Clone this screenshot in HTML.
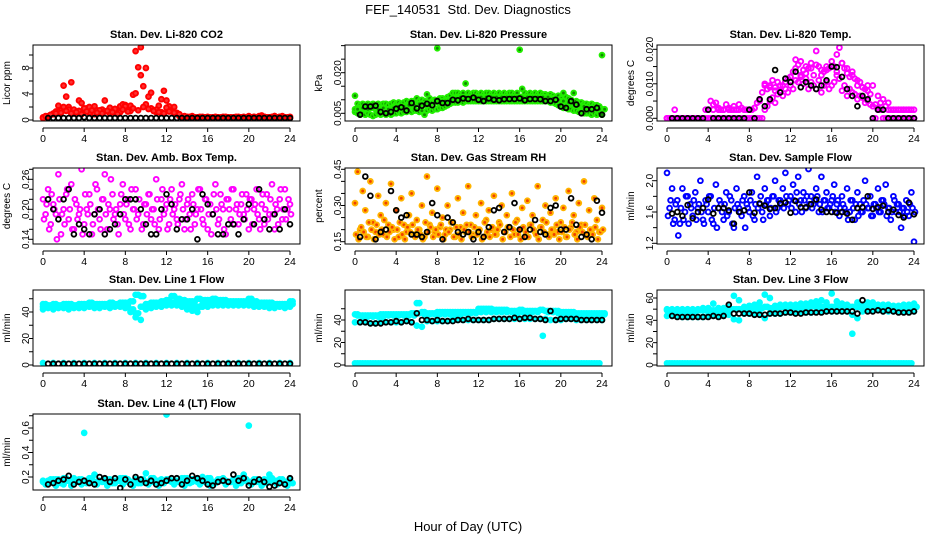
<!DOCTYPE html>
<html><head><meta charset="utf-8"><style>
html,body{margin:0;padding:0;background:#fff}
svg{display:block;font-family:"Liberation Sans",sans-serif}
</style></head><body>
<svg id="chart" width="936" height="540" viewBox="0 0 936 540" xmlns="http://www.w3.org/2000/svg">
<rect width="936" height="540" fill="#fff"/>
<text x="468" y="14" text-anchor="middle" font-size="13">FEF_140531&#160; Std. Dev. Diagnostics</text>
<text x="468" y="531" text-anchor="middle" font-size="13">Hour of Day (UTC)</text>
</svg>
<script>
const xTicks=[0,4,8,12,16,20,24];
// CO2
const co2Main=[0.4,0.5,0.6,0.8,1.0,1.3,2.2,1.5,5.3,3.6,2.0,5.8,1.6,1.2,3.0,2.6,1.4,1.8,2.0,1.2,2.1,1.5,1.1,1.6,3.0,1.4,1.9,1.3,1.7,1.2,2.1,2.4,2.3,1.9,2.2,3.9,10.6,8.1,11.2,5.2,2.4,3.6,1.8,1.4,1.2,2.2,3.2,4.5,3.0,2.1,1.5,2.0,1.1,0.6,0.5,0.4,0.5,0.4,0.6,0.4,0.3,0.5,0.4,0.4,0.5,0.3,0.4,0.5,0.4,0.3,0.4,0.5,0.4,0.4,0.3,0.5,0.4,0.4,0.5,0.3,0.4,0.4,0.5,0.4,0.6,0.7,0.5,0.4,0.4,0.5,0.6,0.4,0.5,0.6,0.4,0.3,0.5];
const co2Low=[0.3,0.5,0.9,1.2,2.0,1.6,1.0,1.4,1.8,1.1,0.9,1.5,1.3,1.0,1.7,1.2,2.1,1.4,4.1,6.9,8.0,4.2,1.6,1.2,1.9,1.3,1.0,0.5,0.4,0.3,0.4,0.5,0.3,0.4,0.4,0.5,0.3,0.4,0.5,0.4,0.6,0.5,0.4,0.5,0.4,0.6,0.5,0.4,0.3];
const co2Mid=[0.6,0.8,1.0,1.1,1.4,1.0,1.2,0.9,1.3,1.5,1.1,1.0,1.4,1.2,0.9,1.6,1.3,1.8,1.5,2.0,1.7,1.4,1.2,1.0,1.3,1.1,0.9,0.6,0.5,0.4,0.4,0.4,0.4,0.4,0.4,0.4,0.4,0.4,0.4,0.4,0.4,0.4,0.4,0.4,0.4,0.4,0.4,0.4];
const co2Black=[0.3,0.3,0.3,0.3,0.3,0.3,0.3,0.4,0.3,0.3,0.3,0.3,0.3,0.3,0.3,0.3,0.3,0.3,0.3,0.3,0.3,0.3,0.3,0.3,0.3,0.3,0.3,0.3,0.3,0.3,0.3,0.3,0.3,0.3,0.3,0.3,0.3,0.3,0.3,0.3,0.3,0.3,0.3,0.3,0.3,0.3,0.3,0.3];
// Pressure
const presUpper=[0.0115,0.0085,0.008,0.0085,0.008,0.0085,0.008,0.0085,0.008,0.0085,0.008,0.0085,0.0085,0.008,0.0085,0.009,0.0085,0.009,0.0085,0.009,0.0095,0.009,0.0095,0.0095,0.0105,0.0095,0.01,0.0095,0.012,0.0105,0.0095,0.01,0.029,0.0105,0.0105,0.01,0.011,0.0115,0.0125,0.0125,0.0125,0.012,0.0125,0.016,0.0125,0.012,0.0125,0.0125,0.012,0.0125,0.012,0.0125,0.0125,0.012,0.0125,0.012,0.0125,0.012,0.0125,0.012,0.0125,0.0125,0.012,0.0125,0.0285,0.014,0.0125,0.012,0.0125,0.012,0.0125,0.012,0.0125,0.012,0.012,0.0115,0.012,0.0115,0.011,0.0115,0.0105,0.0125,0.011,0.0105,0.01,0.0125,0.0095,0.009,0.009,0.0085,0.0085,0.008,0.0085,0.008,0.008,0.0075,0.0265];
const presLower=[0.0055,0.005,0.0045,0.005,0.0045,0.005,0.0045,0.004,0.0045,0.005,0.0045,0.005,0.0045,0.005,0.0045,0.005,0.005,0.0055,0.005,0.0055,0.0055,0.006,0.0055,0.006,0.006,0.0055,0.006,0.0045,0.006,0.0065,0.006,0.0065,0.0065,0.007,0.007,0.0075,0.008,0.0085,0.009,0.009,0.009,0.0095,0.009,0.0095,0.0095,0.0095,0.0095,0.0095,0.0095,0.0095,0.0095,0.0095,0.0095,0.0095,0.0095,0.0095,0.0095,0.0095,0.0095,0.0095,0.0095,0.0095,0.0095,0.0095,0.0095,0.0095,0.0095,0.0095,0.0095,0.0095,0.0095,0.0095,0.0095,0.0095,0.0095,0.0095,0.009,0.009,0.0085,0.008,0.0075,0.007,0.007,0.0065,0.0065,0.006,0.006,0.0055,0.0055,0.005,0.005,0.005,0.0045,0.005,0.0045,0.005,0.0045];
const presMid=[0.0065,0.007,0.0065,0.007,0.0065,0.007,0.0065,0.007,0.0075,0.0075,0.008,0.008,0.0085,0.0085,0.008,0.009,0.009,0.0095,0.01,0.0105,0.011,0.011,0.011,0.011,0.011,0.011,0.011,0.011,0.011,0.011,0.011,0.011,0.011,0.011,0.011,0.011,0.011,0.011,0.0105,0.01,0.0095,0.009,0.0085,0.008,0.0075,0.007,0.007,0.0065,0.0065];
const presBlack=[0.0045,0.0075,0.0075,0.0078,0.0055,0.005,0.0055,0.0067,0.0072,0.006,0.0088,0.0068,0.0078,0.0085,0.008,0.0095,0.0088,0.0088,0.01,0.0098,0.0105,0.0103,0.0108,0.01,0.0095,0.0105,0.01,0.0098,0.0102,0.0103,0.0103,0.0105,0.0098,0.0103,0.0103,0.0102,0.0095,0.0095,0.01,0.0075,0.007,0.0095,0.0082,0.005,0.0065,0.0065,0.007,0.0045];
// Li-820 temp
const tempA=[0,0,0,0.0025,0,0,0,0,0,0,0,0,0,0,0,0.0025,0.0025,0.005,0.0025,0.0045,0.0025,0.0025,0.0025,0.004,0.0025,0.0025,0.0035,0.0025,0.0025,0.003,0.0025,0.0025,0.0025,0.0025,0.003,0.0045,0.0055,0.0075,0.01,0.0085,0.0095,0.011,0.009,0.0105,0.0075,0.0095,0.0105,0.0115,0.012,0.0135,0.017,0.0155,0.0165,0.014,0.015,0.0145,0.016,0.0125,0.0195,0.015,0.014,0.0135,0.015,0.0145,0.0165,0.015,0.0185,0.0205,0.016,0.0145,0.013,0.012,0.0135,0.0115,0.0095,0.0105,0.009,0.0085,0.0095,0.007,0.0035,0.004,0.0065,0.0045,0.0055,0.0035,0.0025,0.0025,0.0025,0.0025,0.0025,0.0025,0.0025,0.0025,0.0025,0.0025,0.0025];
const tempB=[0,0,0,0,0,0,0,0,0,0,0,0,0,0,0,0,0,0,0,0,0,0,0,0,0,0,0,0,0,0,0,0,0,0,0,0,0,0,0.0025,0.0035,0.005,0.006,0.0045,0.007,0.008,0.0065,0.0085,0.0075,0.0095,0.0085,0.011,0.0105,0.012,0.01,0.0115,0.0085,0.0105,0.0095,0.0085,0.011,0.0075,0.0095,0.0105,0.0085,0.0095,0.0105,0.0125,0.0115,0.008,0.0095,0.0065,0.0085,0.0075,0.007,0.0055,0.0065,0.006,0.0045,0.005,0.004,0,0,0.0025,0.0025,0,0,0,0,0,0,0,0,0,0,0,0,0];
const tempC=[0,0,0,0,0,0,0,0,0.0025,0.004,0.003,0.0025,0.003,0.0025,0.004,0.0025,0.0025,0.003,0.005,0.0095,0.009,0.008,0.0095,0.0105,0.012,0.0145,0.0125,0.013,0.0145,0.0155,0.0125,0.014,0.015,0.0135,0.016,0.0145,0.0125,0.011,0.009,0.008,0.0095,0.003,0.0025,0.0045,0.0025,0.0025,0.0025,0.0025,0];
const tempBlack=[0,0,0,0,0,0,0,0.0025,0,0,0,0,0,0,0,0.0025,0,0.0055,0.0035,0.0055,0.014,0.0075,0.0115,0.0105,0.0135,0.009,0.0105,0.0095,0.0085,0.0095,0.011,0.015,0.0148,0.012,0.0085,0.0065,0.0035,0.0065,0.0055,0,0.0025,0.0025,0,0,0,0,0,0];
// Amb box temp
const ambA=[0.22,0.19,0.24,0.17,0.21,0.19,0.27,0.15,0.2,0.23,0.18,0.25,0.16,0.21,0.19,0.28,0.17,0.2,0.23,0.15,0.19,0.24,0.18,0.22,0.27,0.16,0.2,0.23,0.19,0.17,0.21,0.25,0.18,0.22,0.16,0.2,0.24,0.19,0.3,0.17,0.21,0.23,0.18,0.2,0.26,0.16,0.22,0.19,0.21,0.17,0.24,0.2,0.18,0.22,0.25,0.16,0.21,0.19,0.23,0.17,0.2,0.24,0.18,0.22,0.16,0.21,0.19,0.25,0.17,0.23,0.2,0.15,0.22,0.18,0.24,0.2,0.17,0.21,0.19,0.23,0.16,0.22,0.2,0.24,0.18,0.21,0.17,0.23,0.19,0.25,0.16,0.2,0.22,0.18,0.24,0.2,0.21];
const ambB=[0.18,0.21,0.16,0.23,0.2,0.14,0.22,0.19,0.17,0.24,0.2,0.16,0.22,0.18,0.2,0.15,0.23,0.19,0.21,0.17,0.25,0.2,0.16,0.22,0.19,0.21,0.26,0.18,0.2,0.15,0.23,0.19,0.21,0.17,0.24,0.2,0.18,0.22,0.16,0.21,0.19,0.23,0.2,0.17,0.22,0.18,0.24,0.2,0.16,0.22,0.19,0.21,0.17,0.23,0.2,0.18,0.22,0.16,0.21,0.19,0.24,0.2,0.17,0.22,0.19,0.15,0.23,0.2,0.18,0.21,0.16,0.22,0.2,0.24,0.17,0.21,0.19,0.23,0.18,0.2,0.22,0.17,0.21,0.19,0.16,0.23,0.2,0.18,0.22,0.19,0.21,0.17,0.24,0.2,0.18,0.22,0.19];
const ambBlack=[0.22,0.2,0.18,0.22,0.24,0.15,0.17,0.16,0.15,0.19,0.2,0.15,0.16,0.17,0.19,0.22,0.22,0.22,0.2,0.17,0.15,0.15,0.2,0.23,0.21,0.16,0.18,0.18,0.2,0.14,0.23,0.21,0.19,0.15,0.15,0.17,0.17,0.15,0.18,0.21,0.17,0.24,0.18,0.16,0.19,0.16,0.2,0.17];
// RH
const rhA=[0.31,0.44,0.2,0.36,0.28,0.17,0.4,0.23,0.19,0.34,0.26,0.18,0.31,0.22,0.39,0.2,0.28,0.17,0.33,0.22,0.19,0.26,0.35,0.18,0.24,0.2,0.3,0.17,0.42,0.22,0.27,0.19,0.37,0.21,0.25,0.18,0.3,0.2,0.23,0.17,0.33,0.21,0.27,0.19,0.38,0.22,0.18,0.26,0.2,0.31,0.17,0.24,0.28,0.2,0.34,0.18,0.23,0.3,0.19,0.26,0.21,0.35,0.18,0.24,0.2,0.29,0.17,0.32,0.22,0.26,0.19,0.38,0.21,0.24,0.3,0.18,0.27,0.2,0.33,0.19,0.23,0.29,0.17,0.36,0.21,0.26,0.19,0.31,0.22,0.4,0.18,0.28,0.2,0.33,0.24,0.19,0.29];
const rhB=[0.18,0.16,0.21,0.19,0.17,0.23,0.2,0.16,0.22,0.18,0.2,0.24,0.17,0.19,0.21,0.16,0.2,0.23,0.18,0.16,0.21,0.19,0.22,0.17,0.2,0.18,0.16,0.23,0.19,0.21,0.17,0.2,0.18,0.22,0.16,0.2,0.19,0.23,0.17,0.21,0.18,0.16,0.2,0.22,0.19,0.17,0.21,0.18,0.2,0.16,0.23,0.19,0.17,0.21,0.18,0.2,0.22,0.16,0.19,0.21,0.17,0.2,0.23,0.18,0.16,0.21,0.19,0.17,0.22,0.2,0.18,0.16,0.21,0.19,0.23,0.17,0.2,0.18,0.22,0.16,0.19,0.21,0.17,0.2,0.23,0.18,0.16,0.21,0.19,0.22,0.17,0.2,0.18,0.21,0.16,0.19,0.2];
const rhBlack=[0.17,0.42,0.34,0.16,0.19,0.2,0.36,0.28,0.25,0.26,0.18,0.18,0.17,0.19,0.31,0.26,0.16,0.25,0.23,0.19,0.18,0.19,0.16,0.19,0.17,0.21,0.28,0.29,0.19,0.21,0.31,0.2,0.17,0.2,0.24,0.19,0.18,0.29,0.3,0.2,0.2,0.33,0.22,0.17,0.18,0.16,0.32,0.27];
// Sample flow
const sfA=[2.1,1.65,1.9,1.5,1.75,1.45,1.9,1.6,1.8,1.7,1.55,1.85,1.65,2.0,1.5,1.75,1.6,1.8,1.45,1.95,1.65,1.7,1.5,1.85,1.6,1.75,1.4,1.9,1.65,1.55,1.8,1.7,1.6,1.85,1.5,2.05,1.7,1.6,1.9,1.75,1.55,1.8,2.0,1.65,1.75,1.9,2.1,1.7,1.8,1.95,1.6,2.05,1.75,1.85,1.65,2.15,1.8,1.7,1.9,1.6,2.05,1.75,1.85,1.65,1.75,1.95,1.7,1.55,1.8,1.65,1.9,1.6,1.75,1.5,1.85,1.7,1.6,2.0,1.65,1.8,1.55,1.7,1.9,1.6,1.75,1.95,1.65,1.5,1.8,1.6,1.7,1.4,1.65,1.75,1.55,1.85,1.22];
const sfB=[1.55,1.75,1.45,1.7,1.3,1.65,1.5,1.8,1.45,1.65,1.75,1.5,1.7,1.6,1.45,1.7,1.8,1.5,1.65,1.4,1.75,1.6,1.7,1.55,1.8,1.45,1.65,1.7,1.6,1.75,1.4,1.65,1.75,1.55,1.7,1.65,1.8,1.5,1.7,1.75,1.65,1.8,1.6,1.75,1.7,1.65,1.8,1.75,1.65,1.75,1.85,1.7,1.6,1.75,1.8,1.7,1.65,1.75,1.8,1.7,1.6,1.75,1.65,1.7,1.8,1.6,1.75,1.65,1.7,1.6,1.5,1.75,1.65,1.7,1.55,1.6,1.75,1.7,1.65,1.55,1.7,1.65,1.6,1.75,1.7,1.55,1.65,1.6,1.75,1.7,1.6,1.65,1.55,1.6,1.7,1.65,1.6];
const sfBlack=[1.58,1.6,1.55,1.69,1.52,1.6,1.65,1.76,1.58,1.65,1.65,1.62,1.45,1.6,1.62,1.85,1.59,1.71,1.68,1.64,1.65,1.71,1.72,1.59,1.74,1.66,1.66,1.7,1.76,1.63,1.6,1.6,1.59,1.6,1.58,1.5,1.65,1.66,1.8,1.64,1.66,1.68,1.6,1.63,1.56,1.53,1.72,1.57];
// Line 1
const l1Up=[46,45,46,45,46,46,45,46,46,47,46,46,46,47,46,47,47,48,53,52,46,47,47,48,49,52,50,49,48,48,50,49,49,50,49,49,48,48,48,48,50,48,47,47,47,46,46,46,48];
const l1Mid=[44,44,44,44,44,45,44,44,45,45,45,45,45,45,45,46,45,42,39,44,44,45,46,46,47,47,47,46,45,44,44,46,47,47,47,47,46,46,47,46,47,46,45,45,45,45,45,45,46];
const l1Low=[42,43,42,43,43,42,43,43,43,44,43,43,44,43,44,44,43,40,36,34,42,43,44,44,45,45,45,44,42,41,40,44,44,45,45,45,45,45,45,45,45,44,44,44,43,43,44,43,44];
const l1Zero=[1.5,1.5,1.5,1.5,1.5,1.5,1.5,1.5,1.5,1.5,1.5,1.5,1.5,1.5,1.5,1.5,1.5,1.5,1.5,1.5,1.5,1.5,1.5,1.5,1.5];
const l1Black=[1,1,1,1,1,1,1,1,1,1,1,1,1,1,1,1,1,1,1,1,1,1,1,1,1,1,1,1,1,1,1,1,1,1,1,1,1,1,1,1,1,1,1,1,1,1,1,1];
// Line 2
const l2Up=[45,44,44,44,44,45,45,45,45,45,45,46,55,47,46,46,47,47,47,47,47,47,47,47,50,50,50,49,49,49,48,48,49,48,48,48,49,48,48,48,47,47,47,46,46,46,46,46,46];
const l2Mid=[44,43,43,43,43,43,44,44,44,44,44,44,46,45,45,45,45,45,45,45,45,46,46,46,47,47,47,47,47,47,47,46,47,47,47,47,26,47,47,46,46,46,45,45,45,45,45,45,45];
const l2Low=[38,38,38,37,37,38,38,38,38,38,39,38,35,34,39,39,39,39,39,40,40,40,40,40,40,40,40,41,41,41,41,41,41,41,41,41,41,41,40,40,40,41,41,40,40,40,40,40,40];
const l2Zero=[1.5,1.5,1.5,1.5,1.5,1.5,1.5,1.5,1.5,1.5,1.5,1.5,1.5,1.5,1.5,1.5,1.5,1.5,1.5,1.5,1.5,1.5,1.5,1.5,1.5,1.5,1.5,1.5,1.5,1.5,1.5,1.5,1.5,1.5,1.5,1.5,1.5,1.5,1.5,1.5,1.5,1.5,1.5,1.5,1.5,1.5,1.5,1.5];
const l2Black=[38,38,37,37,37,38,38,39,38,39,38,46,40,40,39,40,39,39,39,40,40,41,40,40,40,40,41,41,41,41,42,41,42,42,41,41,40,48,40,41,41,41,41,40,40,40,40,40];
// Line 3
const l3Up=[50,50,50,50,50,50,50,51,51,55,51,51,52,62,58,52,53,54,56,63,60,53,54,54,54,54,55,55,56,57,58,56,64,57,55,54,28,56,54,56,56,54,54,54,53,53,54,54,55];
const l3Mid=[49,48,48,48,48,48,49,49,49,49,49,49,50,50,50,50,50,51,51,52,51,51,52,52,52,52,52,52,53,53,52,52,52,52,53,52,52,52,52,52,52,52,52,52,51,51,51,52,52];
const l3Low=[44,44,44,43,43,43,43,43,44,44,44,44,45,41,40,46,46,46,46,42,46,46,46,47,47,47,47,47,47,48,48,48,48,48,48,48,45,42,48,49,49,49,48,48,48,48,48,48,48];
const l3Zero=[1.5,1.5,1.5,1.5,1.5,1.5,1.5,1.5,1.5,1.5,1.5,1.5,1.5,1.5,1.5,1.5,1.5,1.5,1.5,1.5,1.5,1.5,1.5,1.5,1.5,1.5,1.5,1.5,1.5,1.5,1.5,1.5,1.5,1.5,1.5,1.5,1.5,1.5,1.5,1.5,1.5,1.5,1.5,1.5,1.5,1.5,1.5,1.5];
const l3Black=[44,43,43,43,43,43,43,43,44,43,44,54,46,46,46,46,45,45,45,46,46,46,47,47,46,46,47,47,47,47,48,48,48,48,48,48,46,58,48,48,49,48,49,48,47,47,47,48];
// Line 4
const l4A=[0.17,0.15,0.16,0.18,0.14,0.17,0.19,0.16,0.56,0.15,0.22,0.17,0.16,0.18,0.15,0.17,0.19,0.16,0.18,0.15,0.23,0.17,0.16,0.18,0.71,0.16,0.17,0.15,0.19,0.16,0.18,0.2,0.16,0.15,0.17,0.19,0.16,0.18,0.15,0.22,0.62,0.17,0.16,0.18,0.22,0.16,0.17,0.15,0.18];
const l4B=[0.14,0.18,0.13,0.15,0.17,0.13,0.16,0.14,0.15,0.18,0.14,0.16,0.13,0.15,0.17,0.14,0.16,0.13,0.15,0.17,0.14,0.16,0.13,0.15,0.17,0.14,0.16,0.13,0.15,0.17,0.14,0.16,0.13,0.15,0.17,0.14,0.16,0.13,0.15,0.18,0.14,0.16,0.13,0.15,0.17,0.14,0.16,0.13,0.15];
const l4C=[0.16,0.17,0.18,0.16,0.19,0.17,0.16,0.18,0.17,0.19,0.16,0.17,0.18,0.16,0.17,0.19,0.18,0.16,0.17,0.18,0.16,0.19,0.17,0.16,0.18,0.17,0.16,0.19,0.17,0.18,0.16,0.17,0.19,0.16,0.18,0.17,0.16,0.18,0.19,0.17,0.16,0.18,0.17,0.16,0.19,0.17,0.18,0.16];
const l4Black=[0.14,0.15,0.17,0.18,0.21,0.14,0.16,0.17,0.15,0.14,0.2,0.19,0.16,0.19,0.11,0.18,0.14,0.2,0.18,0.15,0.17,0.14,0.15,0.17,0.19,0.19,0.14,0.17,0.21,0.19,0.17,0.14,0.13,0.16,0.17,0.16,0.22,0.17,0.19,0.13,0.16,0.18,0.16,0.12,0.13,0.15,0.14,0.19];

const RED='#ff0000',GRN='#22ee00',MAG='#ff00ff',ORG='#ffb400',BLU='#0000ff',CYN='#00ffff',BLK='#000000';
const colX0=[43,355,667], rowTop=[45,168,290,414];
const panels=[
 {name:'co2',title:'Stan. Dev. Li-820 CO2',yt:'Licor ppm',c:0,r:0,ref:[0,120,8,68],ticks:[0,2,4,6,8,10],labels:[0,4,8],fmt:v=>String(v),fill:'#ff3030',
  series:[[co2Main,0,0.25,RED],[co2Low,0,0.5,RED],[co2Mid,0.25,0.5,RED],[co2Black,0.5,0.5,BLK]]},
 {name:'pressure',title:'Stan. Dev. Li-820 Pressure',yt:'kPa',c:1,r:0,ref:[0.005,113.3,0.020,72.7],ticks:[0.005,0.01,0.015,0.02,0.025,0.03],labels:[0.005,0.02],fmt:v=>v.toFixed(3),fill:'#118800',
  series:[[presUpper,0,0.25,GRN],[presLower,0,0.25,GRN],[presMid,0,0.5,GRN],[presMid,0.25,0.5,GRN],[presBlack,0.5,0.5,BLK]]},
 {name:'li820-temp',title:'Stan. Dev. Li-820 Temp.',yt:'degrees C',c:2,r:0,ref:[0,118.3,0.02,49.3],ticks:[0,0.005,0.01,0.015,0.02],labels:[0,0.01,0.02],fmt:v=>v.toFixed(3),fill:'none',
  series:[[tempA,0,0.25,MAG],[tempB,0,0.25,MAG],[tempC,0,0.5,MAG],[tempBlack,0.5,0.5,BLK]]},
 {name:'amb-box-temp',title:'Stan. Dev. Amb. Box Temp.',yt:'degrees C',c:0,r:1,ref:[0.14,239.3,0.26,179.3],ticks:[0.14,0.16,0.18,0.2,0.22,0.24,0.26,0.28],labels:[0.14,0.2,0.26],fmt:v=>v.toFixed(2),fill:'none',
  series:[[ambA,0,0.25,MAG],[ambB,0.1,0.25,MAG],[ambBlack,0.5,0.5,BLK]]},
 {name:'gas-stream-rh',title:'Stan. Dev. Gas Stream RH',yt:'percent',c:1,r:1,ref:[0.15,241.7,0.45,169.3],ticks:[0.15,0.2,0.25,0.3,0.35,0.4,0.45],labels:[0.15,0.3,0.45],fmt:v=>v.toFixed(2),fill:'#f04000',
  series:[[rhA,0,0.25,ORG],[rhB,0.1,0.25,ORG],[rhBlack,0.5,0.5,BLK]]},
 {name:'sample-flow',title:'Stan. Dev. Sample Flow',yt:'ml/min',c:2,r:1,ref:[1.2,243.3,2.0,180.7],ticks:[1.2,1.4,1.6,1.8,2.0],labels:[1.2,1.6,2.0],fmt:v=>v.toFixed(1),fill:'none',
  series:[[sfA,0,0.25,BLU],[sfB,0.1,0.25,BLU],[sfBlack,0.5,0.5,BLK]]},
 {name:'line1-flow',title:'Stan. Dev. Line 1 Flow',yt:'ml/min',c:0,r:2,ref:[0,365,40,312],ticks:[0,10,20,30,40,50],labels:[0,20,40],fmt:v=>String(v),fill:CYN,
  series:[[l1Up,0,0.5,CYN],[l1Up,0.25,0.5,CYN],[l1Mid,0.25,0.5,CYN],[l1Mid,0,0.5,CYN],[l1Low,0,0.5,CYN],[l1Zero,0,1,CYN],[l1Black,0.5,0.5,BLK]]},
 {name:'line2-flow',title:'Stan. Dev. Line 2 Flow',yt:'ml/min',c:1,r:2,ref:[0,365,40,320],ticks:[0,10,20,30,40,50],labels:[0,20,40],fmt:v=>String(v),fill:CYN,
  series:[[l2Up,0,0.5,CYN],[l2Up,0.25,0.5,CYN],[l2Mid,0.25,0.5,CYN],[l2Low,0,0.5,CYN],[l2Zero,0,0.5,CYN],[l2Zero,0.25,0.5,CYN],[l2Black,0.5,0.5,BLK]]},
 {name:'line3-flow',title:'Stan. Dev. Line 3 Flow',yt:'ml/min',c:2,r:2,ref:[0,365,60,298],ticks:[0,10,20,30,40,50,60],labels:[0,20,40,60],fmt:v=>String(v),fill:CYN,
  series:[[l3Up,0,0.5,CYN],[l3Mid,0.25,0.5,CYN],[l3Mid,0,0.5,CYN],[l3Low,0,0.5,CYN],[l3Zero,0,0.5,CYN],[l3Zero,0.25,0.5,CYN],[l3Black,0.5,0.5,BLK]]},
 {name:'line4-flow',title:'Stan. Dev. Line 4 (LT) Flow',yt:'ml/min',c:0,r:3,ref:[0.2,477,0.6,428],ticks:[0.2,0.3,0.4,0.5,0.6,0.7],labels:[0.2,0.4,0.6],fmt:v=>v.toFixed(1),fill:CYN,
  series:[[l4A,0,0.5,CYN],[l4B,0.25,0.5,CYN],[l4C,0.25,0.5,CYN],[l4C,0,0.5,CYN],[l4Black,0.5,0.5,BLK]]}
];
const NS='http://www.w3.org/2000/svg', svg=document.getElementById('chart');
function mk(tag,attrs,parent){const e=document.createElementNS(NS,tag);for(const k in attrs)e.setAttribute(k,attrs[k]);(parent||svg).appendChild(e);return e;}
panels.forEach(p=>{
  const g=mk('g',{});
  
  
  const x0=colX0[p.c], pw=247/24;
  const xs=h=>x0+h*pw;
  const k=(p.ref[3]-p.ref[1])/(p.ref[2]-p.ref[0]);
  const ys=v=>p.ref[1]+(v-p.ref[0])*k;
  const L=x0-10, R=x0+257, T=rowTop[p.r], B=T+76;
  const clip=mk('clipPath',{id:'clip-'+p.name},g);
  mk('rect',{x:L,y:T,width:R-L,height:B-T},clip);
  const pts=mk('g',{'clip-path':'url(#clip-'+p.name+')'},g);
  
  
  p.series.forEach(s=>{
    const [arr,t0,dt,col]=s;
    const isB=col===BLK;
    arr.forEach((v,i)=>{
      const c=mk('circle',{cx:xs(t0+i*dt).toFixed(1),cy:ys(v).toFixed(1),r:2.4,fill:isB?'none':p.fill,stroke:col,'stroke-width':isB?1.8:1.9},pts);
      
      
    });
  });
  const fr=mk('rect',{x:L,y:T,width:R-L,height:B-T,fill:'none',stroke:'#000','stroke-width':1},g);
  
  
  const tt=mk('text',{x:(L+R)/2,y:T-7,'text-anchor':'middle','font-size':11,'font-weight':'bold'},g);
  tt.textContent=p.title;
  
  
  const ax=mk('g',{},g);
  
  
  const ay0=B+7;
  mk('line',{x1:xs(0),x2:xs(24),y1:ay0,y2:ay0,stroke:'#000'},ax);
  xTicks.forEach(h=>{
    mk('line',{x1:xs(h),x2:xs(h),y1:ay0,y2:ay0+4,stroke:'#000'},ax);
    const t=mk('text',{x:xs(h),y:B+21,'text-anchor':'middle','font-size':10.5},ax);
    t.textContent=String(h);
    
    
  });
  const yg=mk('g',{},g);
  
  
  const vis=p.ticks.filter(v=>ys(v)>=T-1&&ys(v)<=B+1);
  mk('line',{x1:L,x2:L,y1:ys(vis[0]),y2:ys(vis[vis.length-1]),stroke:'#000'},yg);
  vis.forEach(v=>mk('line',{x1:L-4,x2:L,y1:ys(v),y2:ys(v),stroke:'#000'},yg));
  p.labels.forEach(v=>{
    const yy=ys(v), xx=L-4;
    const t=mk('text',{x:xx,y:yy,'text-anchor':'middle','font-size':10,transform:`rotate(-90 ${xx} ${yy})`},yg);
    t.textContent=p.fmt(v);
    
    
  });
  const tx=L-23, ty=(T+B)/2;
  const yt=mk('text',{x:tx,y:ty,'text-anchor':'middle','font-size':10,transform:`rotate(-90 ${tx} ${ty})`},yg);
  yt.textContent=p.yt;
  
  
});
</script>
</body></html>
